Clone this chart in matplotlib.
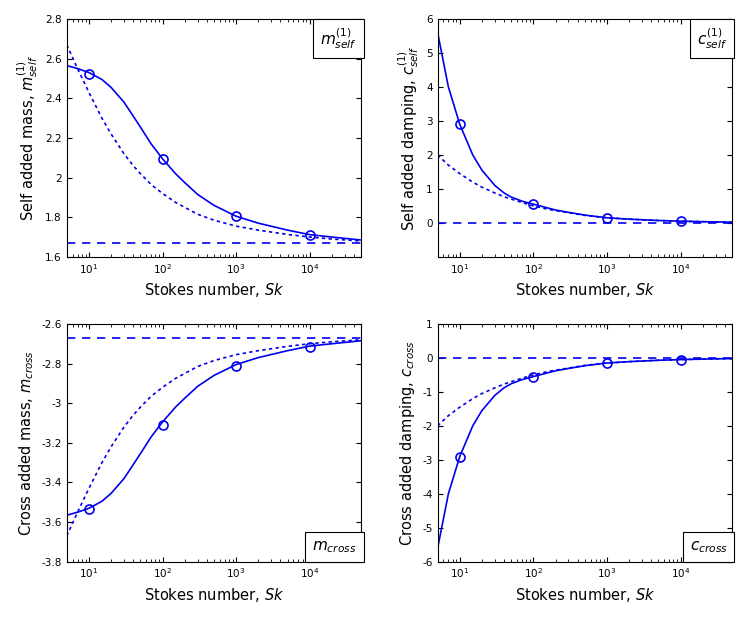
import numpy as np
import matplotlib.pyplot as plt

# Stokes number samples
sk = [5, 7, 10, 15, 20, 30, 40, 50, 70, 100, 150, 200, 300, 500, 1000, 2000, 5000, 10000, 20000, 50000]

m_self_solid = [2.565, 2.55, 2.53, 2.495, 2.455, 2.38, 2.31, 2.255, 2.17, 2.095, 2.02, 1.975, 1.915, 1.86, 1.805, 1.77, 1.735, 1.712, 1.70, 1.685]
m_self_dot = [2.67, 2.55, 2.43, 2.30, 2.22, 2.12, 2.06, 2.02, 1.965, 1.92, 1.875, 1.85, 1.815, 1.785, 1.755, 1.735, 1.713, 1.70, 1.69, 1.68]
m_self_inf = 1.67

c_self_solid = [5.6, 4.0, 2.9, 2.0, 1.55, 1.1, 0.88, 0.76, 0.64, 0.55, 0.45, 0.38, 0.31, 0.23, 0.15, 0.11, 0.07, 0.05, 0.035, 0.02]
c_self_dot = [2.0, 1.7, 1.45, 1.2, 1.05, 0.88, 0.77, 0.70, 0.60, 0.50, 0.41, 0.36, 0.30, 0.22, 0.15, 0.11, 0.07, 0.05, 0.035, 0.02]
c_self_inf = 0.0

m_cross_solid = [-3.565, -3.55, -3.53, -3.495, -3.455, -3.38, -3.31, -3.255, -3.17, -3.095, -3.02, -2.975, -2.915, -2.86, -2.805, -2.77, -2.735, -2.712, -2.70, -2.685]
m_cross_dot = [-3.67, -3.55, -3.43, -3.30, -3.22, -3.12, -3.06, -3.02, -2.965, -2.92, -2.875, -2.85, -2.815, -2.785, -2.755, -2.735, -2.713, -2.70, -2.69, -2.68]
m_cross_inf = -2.67

c_cross_solid = [-5.6, -4.0, -2.9, -2.0, -1.55, -1.1, -0.88, -0.76, -0.64, -0.55, -0.45, -0.38, -0.31, -0.23, -0.15, -0.11, -0.07, -0.05, -0.035, -0.02]
c_cross_dot = [-2.0, -1.7, -1.45, -1.2, -1.05, -0.88, -0.77, -0.70, -0.60, -0.50, -0.41, -0.36, -0.30, -0.22, -0.15, -0.11, -0.07, -0.05, -0.035, -0.02]
c_cross_inf = 0.0

sk_pts = [10, 100, 1000, 10000]
m_self_pts = [2.525, 2.095, 1.805, 1.71]
c_self_pts = [2.92, 0.57, 0.15, 0.05]
m_cross_pts = [-3.535, -3.11, -2.81, -2.715]
c_cross_pts = [-2.92, -0.57, -0.15, -0.05]

panels = [
    (m_self_solid, m_self_dot, m_self_inf, m_self_pts, (1.6, 2.8), np.arange(1.6, 2.81, 0.2),
     'Self added mass, $m^{(1)}_{self}$', '$m^{(1)}_{self}$', 'upper right'),
    (c_self_solid, c_self_dot, c_self_inf, c_self_pts, (-1, 6), np.arange(0, 7, 1),
     'Self added damping, $c^{(1)}_{self}$', '$c^{(1)}_{self}$', 'upper right'),
    (m_cross_solid, m_cross_dot, m_cross_inf, m_cross_pts, (-3.8, -2.6), np.arange(-3.8, -2.59, 0.2),
     'Cross added mass, $m_{cross}$', '$m_{cross}$', 'lower right'),
    (c_cross_solid, c_cross_dot, c_cross_inf, c_cross_pts, (-6, 1), np.arange(-6, 1.1, 1),
     'Cross added damping, $c_{cross}$', '$c_{cross}$', 'lower right'),
]

plt.rcParams['mathtext.fontset'] = 'dejavusans'
plt.rcParams['mathtext.default'] = 'it'

blue = '#0000ee'
fig, axes = plt.subplots(2, 2, figsize=(7.47, 6.19), dpi=100)
for ax, (sol, dot, inf, pts, ylim, yt, ylab, tag, loc) in zip(axes.flat, panels):
    ax.plot(sk, sol, color=blue, lw=1.2)
    ax.plot(sk, dot, color=blue, lw=1.2, ls=(0, (2, 2)))
    ax.axhline(inf, color=blue, lw=1.2, ls=(0, (5, 4)))
    ax.plot(sk_pts, pts, 'o', mfc='none', mec=blue, ms=6.5, mew=1.2)
    ax.set_xscale('log')
    ax.set_xlim(5, 50000)
    ax.set_ylim(*ylim)
    ax.set_yticks(yt)
    ax.set_yticklabels(['%g' % round(v, 2) for v in yt], fontsize=7.5)
    ax.set_xticks([10, 100, 1000, 10000])
    ax.tick_params(axis='x', labelsize=7.5)
    ax.tick_params(direction='in', which='both', top=True, right=True)
    ax.set_xlabel('Stokes number, $Sk$', fontsize=10.5)
    ax.set_ylabel(ylab, fontsize=10.5)
    y = 0.97 if loc == 'upper right' else 0.03
    va = 'top' if loc == 'upper right' else 'bottom'
    ax.text(0.985, y, tag, transform=ax.transAxes, ha='right', va=va, fontsize=11,
            bbox=dict(boxstyle='square,pad=0.45', fc='white', ec='black', lw=0.8))

plt.tight_layout(w_pad=2.5, h_pad=1.5)
plt.savefig('out.png')
